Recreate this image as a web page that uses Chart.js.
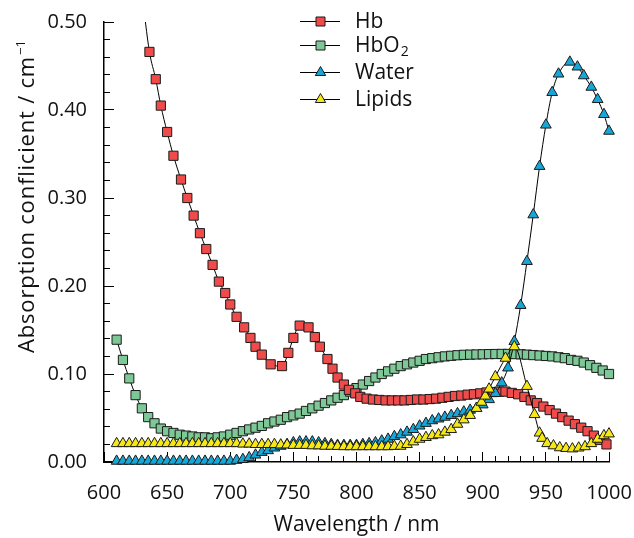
<!DOCTYPE html>
<html>
<head>
<meta charset="utf-8">
<script src="https://cdn.jsdelivr.net/npm/chart.js@4.4.1/dist/chart.umd.min.js"></script>
<style>
  html, body { margin: 0; padding: 0; background: #fff; }
  #chart { display: block; }
</style>
</head>
<body>
<canvas id="chart" width="634" height="538"></canvas>
<script>
// values (wavelength in nm, absorption in 1/cm)
const hbNm = [630, 636, 641, 645, 650, 655, 661, 666, 671, 676, 681, 686, 691, 696, 700, 705, 711, 716, 720, 725,
  732, 741, 746, 750, 755, 762, 767, 771, 777, 781, 785, 790, 794, 799, 803, 808, 813, 818, 823, 828,
  833, 838, 843, 848, 853, 858, 863, 868, 873, 878, 883, 888, 893, 898, 903, 908, 913, 918, 923, 928,
  933, 938, 943, 948, 953, 958, 963, 968, 973, 978, 983, 988, 993, 998];
const hbValues = [0.533, 0.466, 0.435, 0.405, 0.375, 0.348, 0.321, 0.300, 0.280, 0.260, 0.242, 0.224, 0.205, 0.192, 0.179, 0.165, 0.153, 0.141, 0.131, 0.122,
  0.111, 0.109, 0.124, 0.141, 0.155, 0.153, 0.142, 0.131, 0.117, 0.106, 0.096, 0.088, 0.082, 0.078, 0.074, 0.072, 0.071, 0.0705, 0.070, 0.070,
  0.070, 0.070, 0.0705, 0.071, 0.071, 0.0715, 0.072, 0.073, 0.074, 0.075, 0.0755, 0.0765, 0.077, 0.078, 0.079, 0.0795, 0.080, 0.080, 0.0785, 0.077,
  0.074, 0.070, 0.067, 0.063, 0.059, 0.055, 0.051, 0.047, 0.043, 0.039, 0.035, 0.030, 0.025, 0.020];

const hbo2Nm = [610, 615, 620, 625, 630, 635, 640, 645, 650, 655, 660, 665, 670, 675, 680, 685, 690, 695, 700, 705,
  710, 715, 720, 725, 730, 735, 740, 745, 750, 755, 760, 765, 770, 775, 780, 785, 790, 795, 800, 805,
  810, 815, 820, 825, 830, 835, 840, 845, 850, 855, 860, 865, 870, 875, 880, 885, 890, 895, 900, 905,
  910, 915, 920, 925, 930, 935, 940, 945, 950, 955, 960, 965, 970, 975, 980, 985, 990, 995, 1000];
const hbo2Values = [0.139, 0.116, 0.095, 0.076, 0.061, 0.051, 0.044, 0.038, 0.035, 0.033, 0.031, 0.030, 0.029, 0.028, 0.028, 0.027, 0.028, 0.029, 0.031, 0.033,
  0.035, 0.037, 0.039, 0.041, 0.044, 0.046, 0.048, 0.051, 0.053, 0.055, 0.058, 0.061, 0.064, 0.067, 0.070, 0.073, 0.076, 0.080, 0.084, 0.088,
  0.092, 0.096, 0.100, 0.103, 0.106, 0.109, 0.111, 0.113, 0.115, 0.117, 0.118, 0.119, 0.120, 0.1207, 0.1213, 0.1218, 0.122, 0.1222, 0.1224, 0.1226,
  0.1227, 0.1228, 0.1228, 0.1226, 0.1224, 0.122, 0.1215, 0.121, 0.1205, 0.120, 0.119, 0.118, 0.116, 0.115, 0.113, 0.110, 0.107, 0.104, 0.100];

const waterNm = [610, 615, 620, 625, 630, 635, 640, 645, 650, 655, 660, 665, 670, 675, 680, 685, 690, 695, 700, 705,
  710, 715, 720, 725, 730, 735, 740, 745, 750, 755, 760, 765, 770, 775, 780, 785, 790, 795, 800, 805,
  810, 815, 820, 825, 830, 835, 840, 845, 850, 855, 860, 865, 870, 875, 880, 885, 890, 895, 900, 905,
  910, 915, 920, 925, 930, 935, 940, 945, 950, 955, 960, 969, 975, 980, 986, 991, 996, 1000];
const waterValues = [0.001, 0.001, 0.001, 0.001, 0.001, 0.001, 0.001, 0.001, 0.001, 0.001, 0.001, 0.001, 0.001, 0.001, 0.001, 0.001, 0.001, 0.001, 0.001, 0.002,
  0.003, 0.005, 0.008, 0.011, 0.013, 0.016, 0.018, 0.020, 0.022, 0.023, 0.023, 0.023, 0.022, 0.021, 0.020, 0.019, 0.019, 0.019, 0.019, 0.020,
  0.021, 0.022, 0.024, 0.026, 0.029, 0.031, 0.034, 0.037, 0.041, 0.044, 0.047, 0.049, 0.051, 0.053, 0.055, 0.057, 0.059, 0.061, 0.065, 0.071,
  0.078, 0.090, 0.107, 0.137, 0.178, 0.228, 0.281, 0.336, 0.383, 0.420, 0.441, 0.4545, 0.449, 0.439, 0.426, 0.412, 0.395, 0.376];

const lipidNm = [610, 615, 620, 625, 630, 635, 640, 645, 650, 655, 660, 665, 670, 675, 680, 685, 690, 695, 700, 705,
  710, 715, 720, 725, 730, 735, 740, 745, 750, 755, 760, 765, 770, 775, 780, 785, 790, 795, 800, 805,
  810, 815, 820, 825, 830, 835, 840, 845, 850, 855, 860, 865, 870, 875, 880, 885, 890, 895, 899, 902,
  905, 910, 918, 925, 935, 941, 945, 947, 951, 956, 961, 966, 971, 976, 981, 986, 991, 996, 1000, 1004];
const lipidValues = [0.021, 0.021, 0.021, 0.021, 0.021, 0.021, 0.021, 0.021, 0.021, 0.021, 0.021, 0.021, 0.021, 0.021, 0.021, 0.021, 0.021, 0.021, 0.021, 0.021,
  0.0205, 0.0205, 0.020, 0.020, 0.020, 0.020, 0.0195, 0.0195, 0.019, 0.019, 0.019, 0.0185, 0.0185, 0.018, 0.018, 0.0178, 0.0175, 0.0175, 0.0175, 0.0175,
  0.0175, 0.0175, 0.0175, 0.0175, 0.0178, 0.018, 0.020, 0.023, 0.026, 0.028, 0.030, 0.031, 0.034, 0.037, 0.043, 0.048, 0.053, 0.061, 0.068, 0.075,
  0.083, 0.097, 0.118, 0.131, 0.086, 0.054, 0.033, 0.027, 0.021, 0.0185, 0.0163, 0.0155, 0.015, 0.016, 0.0175, 0.021, 0.026, 0.030, 0.032, 0.0328];

const xTickValues = [600, 650, 700, 750, 800, 850, 900, 950, 1000];
const yTickValues = [0, 0.1, 0.2, 0.3, 0.4, 0.5];
const xMinorTicks = [600, 610, 620, 630, 640, 650, 660, 670, 680, 690, 700, 710, 720, 730, 740, 750, 760, 770, 780, 790, 800,
  810, 820, 830, 840, 850, 860, 870, 880, 890, 900, 910, 920, 930, 940, 950, 960, 970, 980, 990, 1000];
const yMinorTicks = [0, 0.02, 0.04, 0.06, 0.08, 0.1, 0.12, 0.14, 0.16, 0.18, 0.2, 0.22, 0.24, 0.26, 0.28, 0.3,
  0.32, 0.34, 0.36, 0.38, 0.4, 0.42, 0.44, 0.46, 0.48, 0.5];

const FONT = "'Open Sans', 'DejaVu Sans', sans-serif";

const series = [
  { name: "Hb", nm: hbNm, values: hbValues, color: "#ef4b4b", style: "rect", order: 2 },
  { name: "HbO2", nm: hbo2Nm, values: hbo2Values, color: "#7dc896", style: "rect", order: 3 },
  { name: "Water", nm: waterNm, values: waterValues, color: "#18a6d6", style: "triangle", order: 1 },
  { name: "Lipids", nm: lipidNm, values: lipidValues, color: "#f5e814", style: "triangle", order: 0 },
];

const datasets = series.map((s) => ({
  label: s.name,
  data: s.nm.map((x, i) => ({ x, y: s.values[i] })),
  order: s.order,
  clip: s.name === "Hb" ? { left: 20, top: 0, right: 20, bottom: 20 } : false,
  borderColor: "#000",
  borderWidth: 1,
  fill: false,
  cubicInterpolationMode: "monotone",
  pointStyle: s.style,
  pointRadius: s.style === "rect" ? 6.5 : 6.2,
  pointBackgroundColor: s.color,
  pointBorderColor: "#1b1b1b",
  pointBorderWidth: 1,
}));

const drawMarker = (ctx, style, color, cx, cy) => {
  ctx.beginPath();
  if (style === "rect") {
    ctx.rect(cx - 4.5, cy - 4.5, 9, 9);
  } else {
    ctx.moveTo(cx, cy - 6);
    ctx.lineTo(cx + 5.2, cy + 3);
    ctx.lineTo(cx - 5.2, cy + 3);
    ctx.closePath();
  }
  ctx.fillStyle = color;
  ctx.fill();
  ctx.strokeStyle = "#1b1b1b";
  ctx.lineWidth = 1;
  ctx.stroke();
};

const legendRows = [21, 45, 72, 99];

// rotated y title and the legend
const overlay = {
  id: "overlay",
  afterDraw(chart) {
    const ctx = chart.ctx;
    ctx.save();
    series.forEach((s, i) => {
      const cy = legendRows[i];
      ctx.fillStyle = "#000";
      ctx.fillRect(300, cy, 40, 1);
      drawMarker(ctx, s.style, s.color, 320.5, cy + 0.5);
      ctx.fillStyle = "#111";
      ctx.textBaseline = "middle";
      ctx.textAlign = "left";
      ctx.font = "21px " + FONT;
      if (s.name === "HbO2") {
        ctx.fillText("HbO", 355, cy + 1);
        const w = ctx.measureText("HbO").width;
        ctx.font = "14px " + FONT;
        ctx.fillText("2", 355 + w + 1, cy + 7);
      } else {
        ctx.fillText(s.name, 355, cy + 1);
      }
    });
    ctx.restore();

    const main = "Absorption conflicient / cm";
    ctx.save();
    ctx.translate(34, 197);
    ctx.rotate(-Math.PI / 2);
    ctx.fillStyle = "#111";
    ctx.textBaseline = "alphabetic";
    ctx.textAlign = "left";
    ctx.font = "22px " + FONT;
    const wMain = ctx.measureText(main).width + main.length * 0.8;
    ctx.font = "13px " + FONT;
    const wSup = ctx.measureText("\u22121").width;
    const start = -(wMain + wSup) / 2;
    ctx.letterSpacing = "0.8px";
    ctx.font = "22px " + FONT;
    ctx.fillText(main, start, 0);
    ctx.letterSpacing = "0px";
    ctx.font = "13px " + FONT;
    ctx.fillText("\u22121", start + wMain + 1, -9);
    ctx.restore();
  },
};

// invisible tick marks only push the labels away from the axis line
const hiddenTickGrid = (len) => ({
  display: true,
  drawOnChartArea: false,
  drawTicks: true,
  tickLength: len,
  tickColor: "rgba(0,0,0,0)",
});

// zero-size helper axes that only draw tick marks pointing into the plot
const tickAxis = (axis, position, values, len, min, max) => ({
  type: "linear",
  axis,
  position,
  min,
  max,
  weight: -1,
  afterFit: (scale) => {
    if (axis === "x") scale.height = 0; else scale.width = 0;
  },
  afterBuildTicks: (scale) => { scale.ticks = values.map((value) => ({ value })); },
  grid: { display: true, drawOnChartArea: false, drawTicks: true, tickLength: -len, tickColor: "#000", tickWidth: 1 },
  border: { display: false },
  ticks: { display: false },
});

new Chart(document.getElementById("chart"), {
  type: "line",
  data: { datasets },
  plugins: [overlay],
  options: {
    responsive: false,
    animation: false,
    events: [],
    layout: { padding: { left: 0, top: 22, right: 25, bottom: 0 } },
    plugins: { legend: { display: false }, tooltip: { enabled: false } },
    scales: {
      x: {
        type: "linear",
        min: 600,
        max: 1000,
        afterFit: (scale) => { scale.height = 76; },
        afterBuildTicks: (scale) => { scale.ticks = xTickValues.map((value) => ({ value })); },
        grid: hiddenTickGrid(19),
        border: { display: true, color: "#000", width: 1.5 },
        ticks: { padding: 0, color: "#111", font: { family: FONT, size: 20 }, maxRotation: 0, callback: (v) => String(v) },
        title: { display: true, text: "Wavelength / nm", color: "#111", font: { family: FONT, size: 21 }, padding: { top: 0, bottom: 0 } },
      },
      y: {
        min: 0,
        max: 0.5,
        afterFit: (scale) => { scale.width = 104; },
        afterBuildTicks: (scale) => { scale.ticks = yTickValues.map((value) => ({ value })); },
        grid: hiddenTickGrid(17),
        border: { display: true, color: "#000", width: 1.5 },
        ticks: { padding: 0, color: "#111", font: { family: FONT, size: 20 }, callback: (v) => Number(v).toFixed(2) },
      },
      xMinor: tickAxis("x", "bottom", xMinorTicks, 6, 600, 1000),
      xMajor: tickAxis("x", "bottom", xTickValues, 10, 600, 1000),
      yMinor: tickAxis("y", "left", yMinorTicks, 6, 0, 0.5),
      yMajor: tickAxis("y", "left", yTickValues, 10, 0, 0.5),
    },
  },
});
</script>
</body>
</html>
